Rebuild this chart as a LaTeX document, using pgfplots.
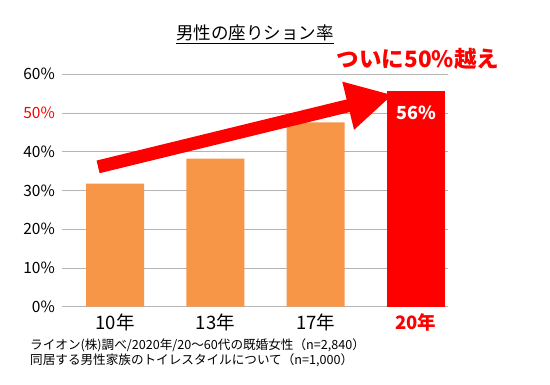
\documentclass[border=0pt]{standalone}
\usepackage{pgfplots}
\pgfplotsset{compat=1.18}
\usepackage{fontspec}
\setmainfont{Noto Sans CJK JP}
\usetikzlibrary{arrows.meta}
\definecolor{barorange}{HTML}{F79646}
\definecolor{gridgray}{HTML}{B4B4B4}
\begin{document}
\begin{tikzpicture}
\useasboundingbox[fill=white] (0,0) rectangle (550bp,385bp);
\begin{axis}[
  at={(62bp,78.3bp)}, anchor=south west,
  scale only axis, width=386bp, height=232.4bp,
  xmin=-0.53, xmax=3.32, ymin=0, ymax=60,
  clip=false,
  axis line style={draw=none},
  tick style={draw=none},
  ymajorgrids, grid style={gridgray, line width=0.9bp},
  ytick={0,10,20,30,40,50,60},
  yticklabels={0\%,10\%,20\%,30\%,40\%,{\color{red}50\%},60\%},
  yticklabel style={anchor=east, inner sep=0pt, xshift=-7bp, font=\fontsize{15.5bp}{18bp}\selectfont},
  xtick={0,1,2,3},
  xticklabels={10年,13年,17年,{\color{red}\bfseries 20年}},
  xticklabel style={anchor=north, inner sep=0pt, yshift=-7bp, font=\fontsize{18.5bp}{21bp}\selectfont},
]
\addplot[ybar, bar shift=0pt, bar width=0.58, fill=barorange, draw=none] coordinates {(0,31.8) (1,38.2) (2,47.6)};
\addplot[ybar, bar shift=0pt, bar width=0.58, fill=red, draw=none] coordinates {(3,55.7)};
\draw[red, line width=13bp, -{Triangle[width=46bp,length=46bp]}] (axis cs:-0.17,36.1) -- (axis cs:2.77,54.7);
\node[text=white, font=\fontsize{18bp}{21bp}\selectfont\bfseries] at (axis cs:3,50) {56\%};
\end{axis}
\node[font=\fontsize{17.5bp}{20bp}\selectfont, inner sep=0pt] (t) at (255bp,352bp) {男性の座りション率};
\draw[line width=1bp] ([yshift=-2bp]t.south west) -- ([yshift=-2bp]t.south east);
\node[text=red, font=\fontsize{22.5bp}{26bp}\selectfont\bfseries, inner sep=0pt] at (418bp,326bp) {ついに50\%越え};
\node[anchor=west, inner sep=0pt, font=\fontsize{12.6bp}{14bp}\selectfont] at (30bp,40bp) {ライオン(株)調べ/2020年/20～60代の既婚女性（n=2,840）};
\node[anchor=west, inner sep=0pt, font=\fontsize{12.6bp}{14bp}\selectfont] at (30bp,25bp) {同居する男性家族のトイレスタイルについて（n=1,000）};
\end{tikzpicture}
\end{document}
